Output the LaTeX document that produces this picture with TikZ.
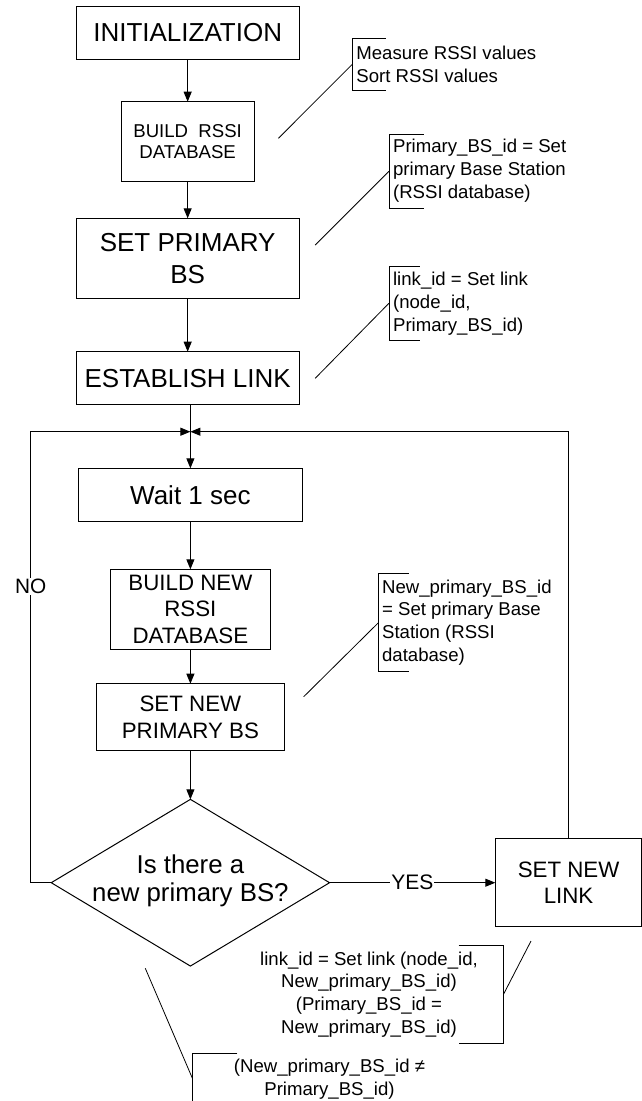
\documentclass[tikz,border=0pt]{standalone}
\usepackage{fontspec}
\setmainfont{Liberation Sans}
\usetikzlibrary{arrows.meta,shapes.geometric}
\begin{document}
\begin{tikzpicture}[x=1pt,y=-1pt,
  box/.style={draw, line width=1pt, inner sep=0pt, outer sep=0pt, align=center},
  big/.style={font=\fontsize{26}{31.6}\selectfont},
  mid/.style={font=\fontsize{22.3}{26.7}\selectfont},
  note/.style={font=\fontsize{18.6}{22.7}\selectfont, inner sep=0pt},
  conn/.style={line width=0.9pt},
  thinline/.style={line width=0.8pt},
  arr/.style={conn, -{Triangle[length=10pt,width=8pt]}},
  lbl/.style={fill=white, inner sep=1pt, font=\fontsize{21}{25}\selectfont}]
\fill[white] (0,0) rectangle (642,1101);
\useasboundingbox (0,0) rectangle (642,1101);

% main chain
\node[box, big, minimum width=223.1pt, minimum height=53.3pt] (init) at (187.65,32.65) {INITIALIZATION};
\node[box, font=\fontsize{18.6}{21.7}\selectfont, minimum width=133pt, minimum height=79.6pt] (build) at (187.65,141.5) {BUILD\ \ RSSI\\DATABASE};
\node[box, big, minimum width=223.1pt, minimum height=80pt] (setp) at (187.65,258.3) {SET PRIMARY\\BS};
\node[box, big, minimum width=223.1pt, minimum height=53pt] (estab) at (187.65,378.2) {ESTABLISH LINK};
\coordinate (merge) at (190.4,431.7);
\node[box, big, minimum width=223.5pt, minimum height=53.4pt] (wait) at (190.4,495) {Wait 1 sec};
\node[box, mid, minimum width=159.7pt, minimum height=80pt] (bnew) at (190.4,609.3) {BUILD NEW\\RSSI\\DATABASE};
\node[box, mid, minimum width=187.9pt, minimum height=66.6pt] (snew) at (190.4,717) {SET NEW\\PRIMARY BS};
\node[diamond, draw, line width=1pt, minimum width=278.3pt, minimum height=166.7pt, inner sep=0pt, outer sep=0pt] (dia) at (190.4,882.7) {};
\node[align=center, inner sep=0pt, font=\fontsize{25.8}{28.3}\selectfont] (diatxt) at (190.4,880.8) {Is there a\\new primary BS?};
\node[box, mid, minimum width=146.5pt, minimum height=87.7pt] (slink) at (568.55,882.7) {SET NEW\\LINK};
\coordinate (lc) at (30.7,882.7);

% connectors
\draw[arr] (init.south) -- (build.north);
\draw[arr] (build.south) -- (setp.north);
\draw[arr] (setp.south) -- (estab.north);
\draw[conn] (estab.south -| merge) -- (merge);
\draw[arr] (merge) -- (wait.north);
\draw[arr] (wait.south) -- (bnew.north);
\draw[arr] (bnew.south) -- (snew.north);
\draw[arr] (snew.south) -- (dia.north);
\draw[arr] (dia.east) -- node[lbl] (yes) {YES} (slink.west);
\draw[arr] (dia.west) -- (lc) |- (merge);
\draw[arr] (slink.north) |- (merge);
\node[lbl, font=\fontsize{20.8}{25}\selectfont] (no) at (30.7,586.7) {NO};

% annotation 1
\node[note, anchor=west, align=left] (n1) at (356.2,64.5) {Measure RSSI values\\Sort RSSI values};
\draw[thinline] (385.6,38.3) -- (352.1,38.3) -- (352.1,90.7) -- (385.6,90.7);
\coordinate (b1) at (352.1,64.5);
\coordinate (c1) at (278.4,138.3);
\draw[thinline] (c1) -- (b1);

% annotation 2
\node[note, anchor=west, align=left] (n2) at (392.9,170.7) {Primary\_BS\_id = Set\\primary Base Station\\(RSSI database)};
\draw[thinline] (423.7,134.3) -- (388.9,134.3) -- (388.9,208.3) -- (423.7,208.3);
\coordinate (b2) at (388.9,171.3);
\coordinate (c2) at (315.2,245);
\draw[thinline] (c2) -- (b2);

% annotation 3
\node[note, anchor=west, align=left] (n3) at (392.9,303.5) {link\_id = Set link\\(node\_id,\\Primary\_BS\_id)};
\draw[thinline] (419.6,266) -- (388.9,266) -- (388.9,340.7) -- (419.6,340.7);
\coordinate (b3) at (388.9,303.3);
\coordinate (c3) at (315.2,378.3);
\draw[thinline] (c3) -- (b3);

% annotation 4
\node[note, anchor=west, align=left] (n4) at (381.9,622.3) {New\_primary\_BS\_id\\= Set primary Base\\Station (RSSI\\database)};
\draw[thinline] (408.5,573.7) -- (378.6,573.7) -- (378.6,671.3) -- (408.5,671.3);
\coordinate (b4) at (378.6,622.5);
\coordinate (c4) at (303.7,696.7);
\draw[thinline] (c4) -- (b4);

% annotation 5
\node[note, align=center] (n5) at (369,994.3) {link\_id = Set link (node\_id,\\New\_primary\_BS\_id)\\(Primary\_BS\_id =\\New\_primary\_BS\_id)};
\draw[thinline] (458.5,945.7) -- (503.5,945.7) -- (503.5,1043) -- (458.5,1043);
\coordinate (b5) at (503.5,994.3);
\coordinate (c5) at (531,941);
\draw[thinline] (b5) -- (c5);

% annotation 6
\node[note, align=center] (n6) at (329.5,1079.2) {(New\_primary\_BS\_id ≠\\Primary\_BS\_id)};
\draw[thinline] (237.4,1053.3) -- (192.4,1053.3) -- (192.4,1101);
\coordinate (b6) at (192.4,1078.3);
\coordinate (c6) at (145.3,968.3);
\draw[thinline] (c6) -- (b6);
\end{tikzpicture}
\end{document}
